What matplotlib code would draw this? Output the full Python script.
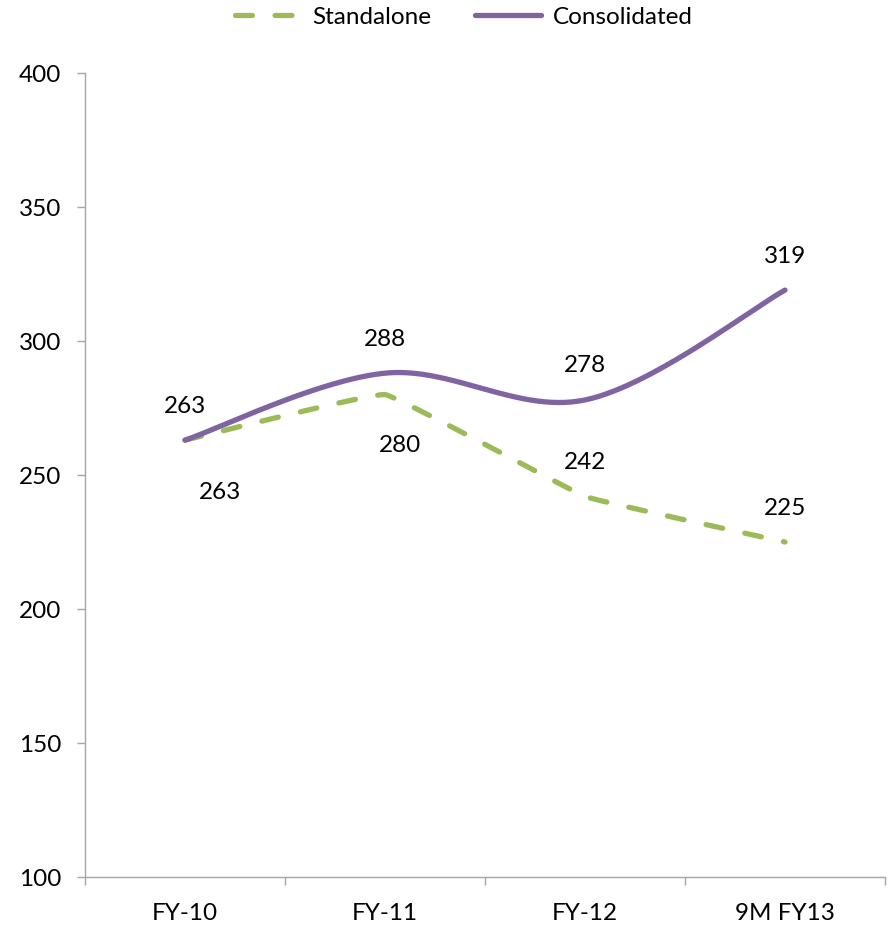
import numpy as np
import matplotlib
matplotlib.use("Agg")
import matplotlib.pyplot as plt

categories = ["FY-10", "FY-11", "FY-12", "9M FY13"]
standalone = [263, 280, 242, 225]
consolidated = [263, 288, 278, 319]
y_ticks = [100, 150, 200, 250, 300, 350, 400]

plt.rcParams['font.family'] = ['Lato', 'DejaVu Sans']

GREEN = '#9BBB59'
PURPLE = '#8064A2'
AXIS = '#A6A6A6'

fig = plt.figure(figsize=(8.92, 9.26), dpi=100)
ax = fig.add_axes([85/892, 49/926, 800/892, 804/926])
ax.set_xlim(-0.5, len(categories) - 0.5)
ax.set_ylim(100, 400)


def smooth(xs, ys, k=6.0, n=60):
    # Bezier smoothing in display coordinates
    pts = ax.transData.transform(np.column_stack([xs, ys]))
    out = []
    m = len(pts)
    for i in range(m - 1):
        p0 = pts[i - 1] if i > 0 else pts[i]
        p1 = pts[i]
        p2 = pts[i + 1]
        p3 = pts[i + 2] if i + 2 < m else pts[i + 1]
        c1 = p1 + (p2 - p0) / k
        c2 = p2 - (p3 - p1) / k
        t = np.linspace(0, 1, n)[:, None]
        seg = ((1 - t) ** 3) * p1 + 3 * ((1 - t) ** 2) * t * c1 + 3 * (1 - t) * t ** 2 * c2 + t ** 3 * p2
        out.append(seg if i == 0 else seg[1:])
    out = np.vstack(out)
    return ax.transData.inverted().transform(out)

x = np.arange(len(categories))
s = smooth(x, standalone, k=30.0)
c = smooth(x, consolidated, k=6.0)
LW = 3.8
ax.plot(s[:, 0], s[:, 1], color=GREEN, lw=LW, dashes=(3.2, 4.3),
        solid_capstyle='round', dash_capstyle='round', label='Standalone', zorder=3)
ax.plot(c[:, 0], c[:, 1], color=PURPLE, lw=LW, solid_capstyle='round',
        label='Consolidated', zorder=4)

fs = 17.5
c_off = [(0, 24.5), (0, 24), (0, 24.5), (0, 24.5)]
s_off = [(25, -38), (11, -37), (0, 24.5), (0, 24)]
for i, v in enumerate(consolidated):
    ax.annotate(str(v), (x[i], v), xytext=c_off[i], textcoords='offset points',
                ha='center', va='center', fontsize=fs)
for i, v in enumerate(standalone):
    ax.annotate(str(v), (x[i], v), xytext=s_off[i], textcoords='offset points',
                ha='center', va='center', fontsize=fs)

ax.set_yticks(y_ticks)
ax.set_yticklabels([str(t) for t in y_ticks], fontsize=fs)
ax.set_xticks(x)
ax.set_xticklabels(categories, fontsize=fs)
ax.set_xticks(np.arange(-0.5, len(categories)), minor=True)
ax.tick_params(axis='x', which='major', length=0, pad=19)
ax.tick_params(axis='x', which='minor', length=6, color=AXIS, width=1)
ax.tick_params(axis='y', length=6, color=AXIS, width=1, pad=11)
for side in ['top', 'right']:
    ax.spines[side].set_visible(False)
for side in ['left', 'bottom']:
    ax.spines[side].set_color(AXIS)
    ax.spines[side].set_linewidth(1)

leg = fig.legend(loc='center', bbox_to_anchor=(0.52, 1 - 17/926), ncol=2, frameon=False,
                 fontsize=fs, handlelength=2.7, columnspacing=1.8, handletextpad=0.5)

fig.savefig('out.png', dpi=100)
